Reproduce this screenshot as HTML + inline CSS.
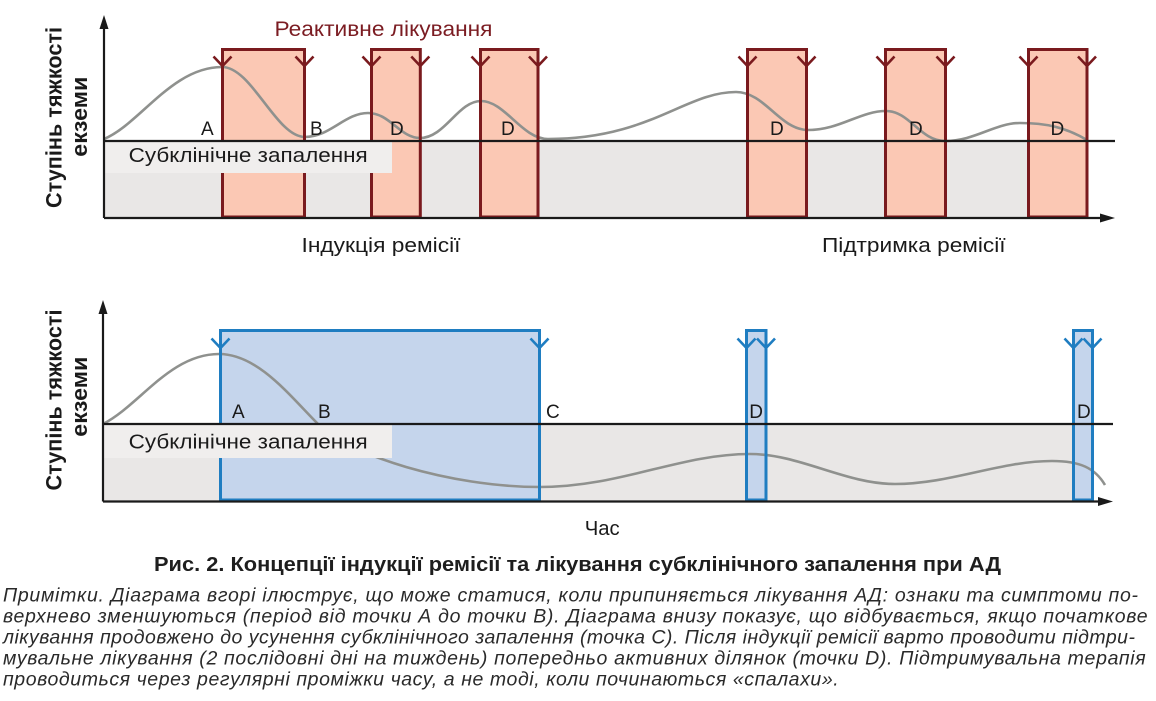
<!DOCTYPE html>
<html>
<head>
<meta charset="utf-8">
<style>
html,body{margin:0;padding:0;background:#fff;}
svg{display:block;}
text{font-family:"Liberation Sans","DejaVu Sans",sans-serif;}
</style>
</head>
<body>
<svg width="1156" height="701" viewBox="0 0 1156 701" xmlns="http://www.w3.org/2000/svg">
<rect width="1156" height="701" fill="#fff"/>

<!-- ===== TOP CHART ===== -->
<rect x="104" y="141" width="984" height="77" fill="#e9e7e6"/>
<g fill="#fbc8b4">
<rect x="222.5" y="49.5" width="82" height="167.5"/>
<rect x="371.5" y="49.5" width="48.8" height="167.5"/>
<rect x="480.5" y="49.5" width="57.5" height="167.5"/>
<rect x="747.5" y="49.5" width="59" height="167.5"/>
<rect x="885.5" y="49.5" width="60" height="167.5"/>
<rect x="1028.5" y="49.5" width="58.5" height="167.5"/>
</g>
<path d="M104,139 C140,124 172,67 222,67 C252,67 276,137 305,137 C330,137 345,113 368,113 C390,113 400,138 420,138 C445,138 458,101 481,101 C505,101 522,139 548,139 C650,139 685,92 736,92 C765,92 780,130 808,130 C840,130 860,111 886,111 C910,111 920,141 945,141 C975,141 995,123 1020,123 C1045,123 1065,127 1087,140" fill="none" stroke="#8f918e" stroke-width="2.6"/>
<g fill="none" stroke="#7a1a1e" stroke-width="3">
<rect x="222.5" y="49.5" width="82" height="167.5"/>
<rect x="371.5" y="49.5" width="48.8" height="167.5"/>
<rect x="480.5" y="49.5" width="57.5" height="167.5"/>
<rect x="747.5" y="49.5" width="59" height="167.5"/>
<rect x="885.5" y="49.5" width="60" height="167.5"/>
<rect x="1028.5" y="49.5" width="58.5" height="167.5"/>
</g>
<g fill="none" stroke="#7a1a1e" stroke-width="2.6">
<polyline points="213.5,56.5 222.5,66 231.5,56.5"/>
<polyline points="295.5,56.5 304.5,66 313.5,56.5"/>
<polyline points="362.5,56.5 371.5,66 380.5,56.5"/>
<polyline points="411.3,56.5 420.3,66 429.3,56.5"/>
<polyline points="471.5,56.5 480.5,66 489.5,56.5"/>
<polyline points="529,56.5 538,66 547,56.5"/>
<polyline points="738.5,56.5 747.5,66 756.5,56.5"/>
<polyline points="797.5,56.5 806.5,66 815.5,56.5"/>
<polyline points="876.5,56.5 885.5,66 894.5,56.5"/>
<polyline points="936.5,56.5 945.5,66 954.5,56.5"/>
<polyline points="1019.5,56.5 1028.5,66 1037.5,56.5"/>
<polyline points="1078,56.5 1087,66 1096,56.5"/>
</g>
<rect x="105" y="141" width="287" height="32" fill="#f0eeed"/>
<g stroke="#1a1a1a" stroke-width="2.2" fill="none">
<line x1="104" y1="141" x2="1115" y2="141"/>
<line x1="104" y1="218" x2="1102" y2="218"/>
<line x1="104" y1="218" x2="104" y2="26"/>
</g>
<polygon points="104,15 99.5,29 108.5,29" fill="#1a1a1a"/>
<polygon points="1115,218 1100,213.5 1100,222.5" fill="#1a1a1a"/>

<g font-size="19" fill="#1a1a1a">
<text x="201" y="135">A</text>
<text x="310" y="135">B</text>
<text x="390" y="135">D</text>
<text x="501" y="135">D</text>
<text x="770" y="135">D</text>
<text x="909" y="135">D</text>
<text x="1050.5" y="135">D</text>
</g>
<text x="274.5" y="36" font-size="21" fill="#7b1c22" textLength="218" lengthAdjust="spacingAndGlyphs">Реактивне лікування</text>
<text x="128.7" y="162" font-size="20.5" fill="#1a1a1a" textLength="239" lengthAdjust="spacingAndGlyphs">Субклінічне запалення</text>
<text x="301.5" y="252" font-size="20.5" fill="#1a1a1a" textLength="159" lengthAdjust="spacingAndGlyphs">Індукція ремісії</text>
<text x="822" y="252" font-size="20.5" fill="#1a1a1a" textLength="183.6" lengthAdjust="spacingAndGlyphs">Підтримка ремісії</text>
<g font-weight="bold" font-size="22" fill="#1a1a1a" text-anchor="middle">
<text transform="translate(61.5,117.5) rotate(-90)" textLength="181" lengthAdjust="spacingAndGlyphs">Ступінь тяжкості</text>
<text transform="translate(87,116.7) rotate(-90)" textLength="80" lengthAdjust="spacingAndGlyphs">екземи</text>
</g>

<!-- ===== BOTTOM CHART ===== -->
<rect x="103" y="424" width="970" height="77.5" fill="#e9e7e6"/>
<g fill="#c5d5ec">
<rect x="220.5" y="330.5" width="319" height="169.5"/>
<rect x="746.5" y="330.5" width="19.5" height="169.5"/>
<rect x="1073.5" y="330.5" width="19" height="169.5"/>
</g>
<path d="M103,424 C140,405 170,354 219,354 C258,354 290,396 318,424 C348,455 450,487 540,487 C620,487 680,454 750,454 C800,454 845,484 895,484 C950,484 1000,461 1052,461 C1080,461 1095,468 1105,485" fill="none" stroke="#8f918e" stroke-width="2.6"/>
<g fill="none" stroke="#1f7dc1" stroke-width="3">
<rect x="220.5" y="330.5" width="319" height="169.5"/>
<rect x="746.5" y="330.5" width="19.5" height="169.5"/>
<rect x="1073.5" y="330.5" width="19" height="169.5"/>
</g>
<g fill="none" stroke="#1f7dc1" stroke-width="2.6">
<polyline points="211.5,338.5 220.5,348 229.5,338.5"/>
<polyline points="530.5,338.5 539.5,348 548.5,338.5"/>
<polyline points="737.5,338.5 746.5,348 755.5,338.5"/>
<polyline points="757,338.5 766,348 775,338.5"/>
<polyline points="1064.5,338.5 1073.5,348 1082.5,338.5"/>
<polyline points="1083.5,338.5 1092.5,348 1101.5,338.5"/>
</g>
<rect x="104" y="424" width="288" height="34" fill="#f0eeed"/>
<g stroke="#1a1a1a" stroke-width="2.2" fill="none">
<line x1="103" y1="424" x2="1113" y2="424"/>
<line x1="103" y1="501.5" x2="1100" y2="501.5"/>
<line x1="103" y1="501.5" x2="103" y2="311"/>
</g>
<polygon points="103,300 98.5,314 107.5,314" fill="#1a1a1a"/>
<polygon points="1113,501.5 1098,497 1098,506" fill="#1a1a1a"/>

<g font-size="19" fill="#1a1a1a">
<text x="232" y="418">A</text>
<text x="318" y="418">B</text>
<text x="546" y="418">C</text>
<text x="749.3" y="418">D</text>
<text x="1077" y="418">D</text>
</g>
<text x="128.7" y="448.3" font-size="20.5" fill="#1a1a1a" textLength="239" lengthAdjust="spacingAndGlyphs">Субклінічне запалення</text>
<text x="584.7" y="535" font-size="20.5" fill="#1a1a1a" textLength="35" lengthAdjust="spacingAndGlyphs">Час</text>
<g font-weight="bold" font-size="22" fill="#1a1a1a" text-anchor="middle">
<text transform="translate(61.5,400) rotate(-90)" textLength="181" lengthAdjust="spacingAndGlyphs">Ступінь тяжкості</text>
<text transform="translate(87,396.7) rotate(-90)" textLength="80" lengthAdjust="spacingAndGlyphs">екземи</text>
</g>

<!-- ===== CAPTION ===== -->
<text x="154" y="571" font-size="20" font-weight="bold" fill="#1e1e1e" textLength="847" lengthAdjust="spacingAndGlyphs">Рис. 2. Концепції індукції ремісії та лікування субклінічного запалення при АД</text>
<g font-size="19.5" font-style="italic" fill="#2a2a2a">
<text x="3" y="601.5" textLength="1135" lengthAdjust="spacing">Примітки. Діаграма вгорі ілюструє, що може статися, коли припиняється лікування АД: ознаки та симптоми по-</text>
<text x="3" y="622.5" textLength="1144.6" lengthAdjust="spacing">верхнево зменшуються (період від точки А до точки В). Діаграма внизу показує, що відбувається, якщо початкове</text>
<text x="3" y="643.5" textLength="1132" lengthAdjust="spacing">лікування продовжено до усунення субклінічного запалення (точка С). Після індукції ремісії варто проводити підтри-</text>
<text x="3" y="664.5" textLength="1142.7" lengthAdjust="spacing">мувальне лікування (2 послідовні дні на тиждень) попередньо активних ділянок (точки D). Підтримувальна терапія</text>
<text x="3" y="685.5" textLength="835.7" lengthAdjust="spacing">проводиться через регулярні проміжки часу, а не тоді, коли починаються «спалахи».</text>
</g>
</svg>
</body>
</html>
